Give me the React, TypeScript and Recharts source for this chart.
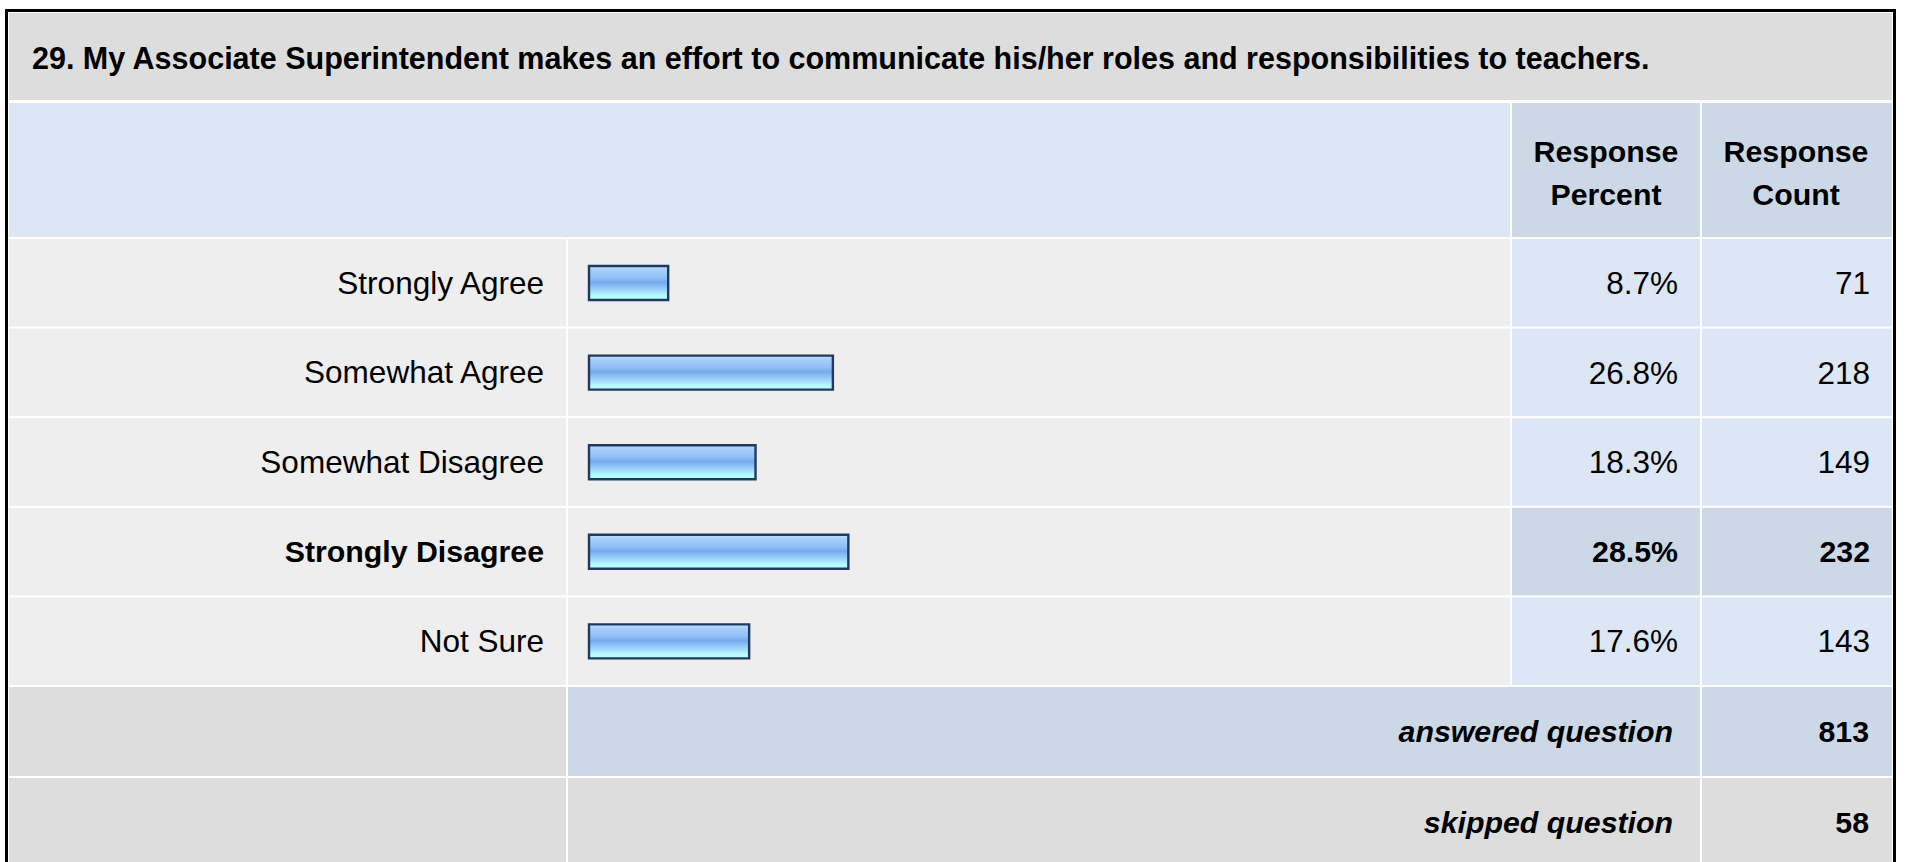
import React from "react";
import { BarChart, Bar, XAxis, YAxis, LabelList } from "recharts";

const title =
  "29. My Associate Superintendent makes an effort to communicate his/her roles and responsibilities to teachers.";
const categories = [
  "Strongly Agree",
  "Somewhat Agree",
  "Somewhat Disagree",
  "Strongly Disagree",
  "Not Sure",
];
const percents = [8.7, 26.8, 18.3, 28.5, 17.6];
const counts = [71, 218, 149, 232, 143];
const headerPercent = ["Response", "Percent"];
const headerCount = ["Response", "Count"];
const footerLabels = ["answered question", "skipped question"];
const footerValues = [813, 58];

const data = categories.map((name, i) => ({ name, pct: percents[i], count: counts[i] }));
const maxIdx = percents.indexOf(Math.max(...percents));

// layout constants
const W = 1907;
const H = 862;
const ROW_TOP = 238;
const ROW_BOTTOM = 686;
const ROW_H = (ROW_BOTTOM - ROW_TOP) / categories.length;
const C1 = [9, 566];
const C2 = [568, 1510];
const C3 = [1512, 1700];
const C4 = [1702, 1892];
const FONT = "'Liberation Sans', Arial, Helvetica, sans-serif";
const GREY = "#DDDDDD";
const LIGHT = "#EEEEEE";
const BLUE = "#DCE6F4";
const STEEL = "#CCD8E6";
const LABEL_X = 544;
const PCT_X = 1678;
const CNT_X = 1870;

const Background = () => {
  const rows = categories.map((_, i) => {
    const y0 = ROW_TOP + ROW_H * i + 1;
    const h = ROW_H - 2;
    const hi = i === maxIdx;
    return (
      <g key={i}>
        <rect x={C1[0]} y={y0} width={C1[1] - C1[0]} height={h} fill={LIGHT} />
        <rect x={C2[0]} y={y0} width={C2[1] - C2[0]} height={h} fill={LIGHT} />
        <rect x={C3[0]} y={y0} width={C3[1] - C3[0]} height={h} fill={hi ? STEEL : BLUE} />
        <rect x={C4[0]} y={y0} width={C4[1] - C4[0]} height={h} fill={hi ? STEEL : BLUE} />
      </g>
    );
  });
  const fy = [ROW_BOTTOM + 1, ROW_BOTTOM + 92];
  return (
    <svg width={W} height={H} style={{ position: "absolute", left: 0, top: 0 }}>
      <rect x={0} y={0} width={W} height={H} fill="#FFFFFF" />
      <rect x={5} y={9} width={1891} height={900} fill="#000000" />
      <rect x={8} y={12} width={1885} height={900} fill="#FFFFFF" />
      <rect x={C1[0]} y={13} width={C4[1] - C1[0]} height={87} fill={GREY} />
      <text x={32} y={58} fontFamily={FONT} fontSize={30.5} fontWeight="bold" dominantBaseline="central" fill="#000">
        {title}
      </text>
      <rect x={C1[0]} y={103} width={C2[1] - C1[0]} height={134} fill={BLUE} />
      <rect x={C3[0]} y={103} width={C3[1] - C3[0]} height={134} fill={STEEL} />
      <rect x={C4[0]} y={103} width={C4[1] - C4[0]} height={134} fill={STEEL} />
      {headerPercent.map((t, i) => (
        <text key={"p" + i} x={(C3[0] + C3[1]) / 2} y={151 + i * 43} textAnchor="middle" dominantBaseline="central" fontFamily={FONT} fontSize={30.3} fontWeight="bold" fill="#000">
          {t}
        </text>
      ))}
      {headerCount.map((t, i) => (
        <text key={"c" + i} x={(C4[0] + C4[1]) / 2 - 1} y={151 + i * 43} textAnchor="middle" dominantBaseline="central" fontFamily={FONT} fontSize={30.3} fontWeight="bold" fill="#000">
          {t}
        </text>
      ))}
      {rows}
      {footerLabels.map((t, i) => (
        <g key={"f" + i}>
          <rect x={C1[0]} y={fy[i]} width={C1[1] - C1[0]} height={89} fill={GREY} />
          <rect x={C2[0]} y={fy[i]} width={C3[1] - C2[0]} height={89} fill={i === 0 ? STEEL : GREY} />
          <rect x={C4[0]} y={fy[i]} width={C4[1] - C4[0]} height={89} fill={i === 0 ? STEEL : GREY} />
          <text x={1673} y={fy[i] + 44.5} textAnchor="end" dominantBaseline="central" fontFamily={FONT} fontSize={30.3} fontWeight="bold" fontStyle="italic" fill="#000">
            {t}
          </text>
          <text x={CNT_X - 1} y={fy[i] + 44.5} textAnchor="end" dominantBaseline="central" fontFamily={FONT} fontSize={30.3} fontWeight="bold" fill="#000">
            {footerValues[i]}
          </text>
        </g>
      ))}
    </svg>
  );
};

const CategoryTick = (props: any) => {
  const { y, payload } = props;
  const bold = categories.indexOf(payload.value) === maxIdx;
  return (
    <text
      x={LABEL_X}
      y={y}
      textAnchor="end"
      dominantBaseline="central"
      fontFamily={FONT}
      fontSize={bold ? 30.3 : 31.5}
      fontWeight={bold ? "bold" : "normal"}
      fill="#000"
    >
      {payload.value}
    </text>
  );
};

const makeCell = (xAnchor: number, fmt: (v: number) => string) => (props: any) => {
  const { y, height, value, index } = props;
  const bold = index === maxIdx;
  return (
    <text
      x={xAnchor}
      y={Number(y) + Number(height) / 2}
      textAnchor="end"
      dominantBaseline="central"
      fontFamily={FONT}
      fontSize={bold ? 30.3 : 31.5}
      fontWeight={bold ? "bold" : "normal"}
      fill="#000"
    >
      {fmt(value)}
    </text>
  );
};

export default function App() {
  return (
    <div style={{ position: "absolute", left: 0, top: 0, width: W, height: H, overflow: "hidden" }}>
      <Background />
      <div style={{ position: "absolute", left: 0, top: 0 }}>
        <BarChart
          width={W}
          height={H}
          data={data}
          layout="vertical"
          margin={{ top: ROW_TOP, bottom: H - ROW_BOTTOM, left: 289, right: 408 }}
        >
          <defs>
            <linearGradient id="barGrad" x1="0" y1="0" x2="0" y2="1">
              <stop offset="0%" stopColor="#C4E2FF" />
              <stop offset="12%" stopColor="#A6CEFA" />
              <stop offset="35%" stopColor="#90BFF6" />
              <stop offset="48%" stopColor="#74AAEE" />
              <stop offset="60%" stopColor="#8CC0F5" />
              <stop offset="75%" stopColor="#A4DCFE" />
              <stop offset="88%" stopColor="#B6FCFF" />
              <stop offset="100%" stopColor="#B8FFFF" />
            </linearGradient>
          </defs>
          <XAxis type="number" domain={[0, 100]} hide />
          <YAxis
            type="category"
            dataKey="name"
            width={300}
            axisLine={false}
            tickLine={false}
            interval={0}
            tick={<CategoryTick />}
          />
          <Bar
            dataKey="pct"
            barSize={34}
            fill="url(#barGrad)"
            stroke="#1F3A5E"
            strokeWidth={2.4}
            isAnimationActive={false}
          >
            <LabelList dataKey="pct" content={makeCell(PCT_X, (v) => v.toFixed(1) + "%")} />
            <LabelList dataKey="count" content={makeCell(CNT_X, (v) => String(v))} />
          </Bar>
        </BarChart>
      </div>
    </div>
  );
}
